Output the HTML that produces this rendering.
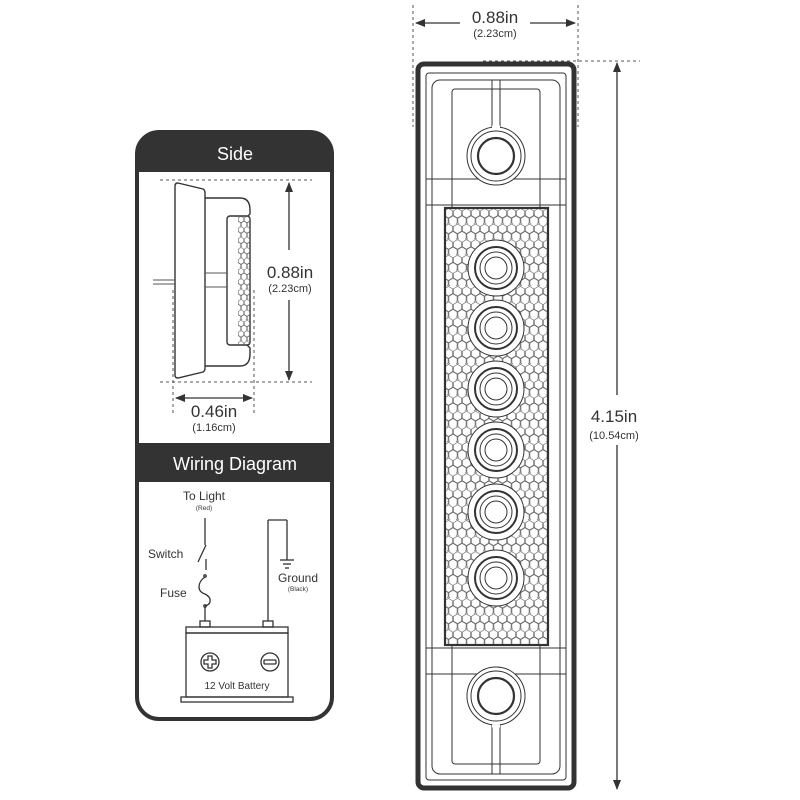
<!DOCTYPE html>
<html><head><meta charset="utf-8"><style>
html,body{margin:0;padding:0;background:#fff}
svg{display:block}
text{font-family:"Liberation Sans",sans-serif;fill:#333}
</style></head><body>
<svg width="800" height="800" viewBox="0 0 800 800" xmlns="http://www.w3.org/2000/svg">
<defs>
<pattern id="hex" width="9" height="15.6" patternUnits="userSpaceOnUse" x="444" y="208">
<path d="M4.5 0.4 L8.6 2.8 L8.6 7.6 L4.5 10 L0.4 7.6 L0.4 2.8 Z" fill="none" stroke="#555" stroke-width="0.6"/>
<path d="M0 7.8 L4.1 10.2 L4.1 15 L0 17.4 L-4.1 15 L-4.1 10.2 Z M9 7.8 L13.1 10.2 L13.1 15 L9 17.4 L4.9 15 L4.9 10.2 Z" fill="none" stroke="#555" stroke-width="0.6"/>
</pattern>
<pattern id="hex2" width="6" height="10.4" patternUnits="userSpaceOnUse" x="238" y="216">
<path d="M3 0.3 L5.7 1.9 L5.7 5 L3 6.6 L0.3 5 L0.3 1.9 Z M0 5.2 L2.7 6.8 L2.7 9.9 L0 11.5 L-2.7 9.9 L-2.7 6.8 Z M6 5.2 L8.7 6.8 L8.7 9.9 L6 11.5 L3.3 9.9 L3.3 6.8 Z" fill="none" stroke="#555" stroke-width="0.5"/>
</pattern>
<marker id="ah" markerWidth="10" markerHeight="10" refX="9" refY="5" orient="auto" markerUnits="userSpaceOnUse"><path d="M0 1 L10 5 L0 9 Z" fill="#333"/></marker>
</defs>

<!-- LEFT PANEL -->
<rect x="137" y="132" width="195" height="587" rx="22" fill="#fff" stroke="#333" stroke-width="4"/>
<path d="M137 172 L137 154 Q137 132 159 132 L310 132 Q332 132 332 154 L332 172 Z" fill="#333"/>
<text x="235" y="160" font-size="18" text-anchor="middle" style="fill:#fff">Side</text>
<rect x="137" y="443" width="195" height="39" fill="#333"/>
<text x="235" y="470" font-size="18" text-anchor="middle" style="fill:#fff">Wiring Diagram</text>

<!-- side drawing -->
<g stroke="#555" stroke-width="1" stroke-dasharray="3,3" fill="none">
<line x1="160" y1="180" x2="312" y2="180"/>
<line x1="160" y1="382" x2="312" y2="382"/>
<line x1="173" y1="290" x2="173" y2="415"/>
<line x1="254" y1="290" x2="254" y2="415"/>
</g>
<g stroke="#333" stroke-width="1.4" fill="#fff">
<path d="M204 198 L240 198 Q250 198 250 210 L250 214 L246 218 L246 344 L250 348 L250 354 Q250 366 240 366 L204 366 Z"/>
<path d="M178 183 L203 189 Q205 190 205 193 L205 368 Q205 371 203 372 L178 378 Q175 378 175 375 L175 186 Q175 183 178 183 Z"/>
<rect x="227" y="216" width="23" height="129" rx="3"/>
<rect x="238" y="216" width="12" height="129" fill="url(#hex2)" stroke="none"/>
</g>
<g stroke="#555" stroke-width="1">
<line x1="205" y1="273" x2="227" y2="273"/><line x1="205" y1="287" x2="227" y2="287"/>
<line x1="153" y1="280" x2="175" y2="280"/><line x1="153" y1="284" x2="175" y2="284"/>
</g>
<g stroke="#333" stroke-width="1.3">
<line x1="289" y1="250" x2="289" y2="183" marker-end="url(#ah)"/>
<line x1="289" y1="300" x2="289" y2="380" marker-end="url(#ah)"/>
<line x1="213" y1="398" x2="176" y2="398" marker-end="url(#ah)"/>
<line x1="213" y1="398" x2="252" y2="398" marker-end="url(#ah)"/>
</g>
<text x="290" y="278" font-size="17" text-anchor="middle">0.88in</text>
<text x="290" y="292" font-size="11" text-anchor="middle">(2.23cm)</text>
<text x="214" y="417" font-size="17" text-anchor="middle">0.46in</text>
<text x="214" y="431" font-size="11" text-anchor="middle">(1.16cm)</text>

<!-- wiring -->
<text x="204" y="500" font-size="12" text-anchor="middle">To Light</text>
<text x="204" y="510" font-size="6.5" text-anchor="middle">(Red)</text>
<text x="148" y="558" font-size="12">Switch</text>
<text x="160" y="597" font-size="12">Fuse</text>
<text x="298" y="582" font-size="12" text-anchor="middle">Ground</text>
<text x="298" y="591" font-size="6.5" text-anchor="middle">(Black)</text>
<text x="237" y="689" font-size="10" text-anchor="middle">12 Volt Battery</text>
<g stroke="#333" stroke-width="1.3" fill="none">
<line x1="205" y1="518" x2="205" y2="545"/>
<line x1="198" y1="562" x2="206" y2="545"/>
<line x1="206" y1="559" x2="206" y2="570"/>
<path d="M205 577 Q199 581 199 587 Q199 592 205 594 Q211 597 210 602 Q209 605 205 606"/>
<circle cx="205" cy="576" r="1.2"/><circle cx="205" cy="606" r="1.2"/>
<line x1="205" y1="607" x2="205" y2="621"/>
<line x1="268" y1="621" x2="268" y2="520"/>
<line x1="268" y1="520" x2="287" y2="520"/>
<line x1="287" y1="520" x2="287" y2="560"/>
<line x1="280" y1="560" x2="294" y2="560"/>
<line x1="283" y1="564" x2="291" y2="564"/>
<line x1="285" y1="568" x2="289" y2="568"/>
<rect x="200" y="621" width="10" height="6"/>
<rect x="263" y="621" width="10" height="6"/>
<rect x="186" y="627" width="102" height="6"/>
<rect x="186" y="633" width="102" height="64"/>
<rect x="181" y="697" width="112" height="5"/>
<circle cx="210" cy="662" r="9"/>
<circle cx="270" cy="662" r="9"/>
<path d="M208 656 h4 v4 h4 v4 h-4 v4 h-4 v-4 h-4 v-4 h4 Z"/>
<rect x="264" y="660" width="12" height="4" rx="1"/>
</g>

<!-- RIGHT: dimensions -->
<g stroke="#555" stroke-width="1" stroke-dasharray="3,3" fill="none">
<line x1="413" y1="5" x2="413" y2="127"/>
<line x1="578" y1="5" x2="578" y2="127"/>
<line x1="483" y1="61" x2="640" y2="61"/>
</g>
<g stroke="#333" stroke-width="1.3">
<line x1="460" y1="23" x2="416" y2="23" marker-end="url(#ah)"/>
<line x1="530" y1="23" x2="575" y2="23" marker-end="url(#ah)"/>
<line x1="617" y1="395" x2="617" y2="63" marker-end="url(#ah)"/>
<line x1="617" y1="445" x2="617" y2="789" marker-end="url(#ah)"/>
</g>
<text x="495" y="23" font-size="17" text-anchor="middle">0.88in</text>
<text x="495" y="37" font-size="11" text-anchor="middle">(2.23cm)</text>
<text x="614" y="422" font-size="17" text-anchor="middle">4.15in</text>
<text x="614" y="439" font-size="11" text-anchor="middle">(10.54cm)</text>

<!-- body -->
<rect x="418" y="64" width="156" height="724" rx="6" fill="#fff" stroke="#333" stroke-width="5"/>
<g stroke="#333" stroke-width="1" fill="none">
<rect x="426" y="73" width="140" height="707" rx="3"/>
<rect x="432" y="80" width="128" height="694" rx="8"/>
<rect x="452" y="89" width="88" height="132" rx="3" fill="#fff"/>
<rect x="452" y="632" width="88" height="132" rx="3" fill="#fff"/>
<line x1="426" y1="179" x2="566" y2="179"/>
<line x1="426" y1="205" x2="566" y2="205"/>
<line x1="426" y1="648" x2="566" y2="648"/>
<line x1="426" y1="674" x2="566" y2="674"/>
<line x1="492" y1="80" x2="492" y2="129"/><line x1="500" y1="80" x2="500" y2="129"/>
<line x1="492" y1="724" x2="492" y2="774"/><line x1="500" y1="724" x2="500" y2="774"/>
<circle cx="496" cy="156" r="29" fill="#fff"/>
<circle cx="496" cy="156" r="25"/>
<circle cx="496" cy="156" r="18" stroke-width="2.2"/>
<circle cx="496" cy="696" r="29" fill="#fff"/>
<circle cx="496" cy="696" r="25"/>
<circle cx="496" cy="696" r="18" stroke-width="2.2"/>
</g>
<line x1="492" y1="127" x2="500" y2="127" stroke="#fff" stroke-width="3"/>
<line x1="492" y1="726" x2="500" y2="726" stroke="#fff" stroke-width="3"/>
<rect x="445" y="208" width="103" height="437" fill="#fff" stroke="#333" stroke-width="2.2"/>
<rect x="446" y="209" width="101" height="435" fill="url(#hex)"/>
<g stroke="#333" stroke-width="1" fill="#fff">
<g id="led"><circle cx="496" cy="268" r="28"/><circle cx="496" cy="268" r="21" stroke-width="2"/><circle cx="496" cy="268" r="16"/><circle cx="496" cy="268" r="11"/></g>
<use href="#led" y="60"/>
<use href="#led" y="121"/>
<use href="#led" y="182"/>
<use href="#led" y="244"/>
<use href="#led" y="310"/>
</g>
</svg>
</body></html>
